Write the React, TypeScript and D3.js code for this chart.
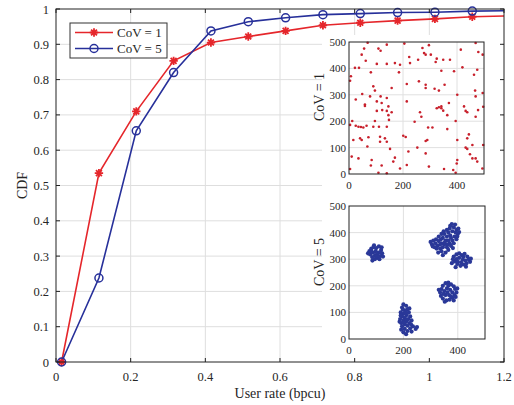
import React, { useRef, useEffect } from 'react';
import * as d3 from 'd3';

// main CDF curves (markers every 0.1 bpcu, line runs on to 1.2)
const rate = [0.015, 0.115, 0.215, 0.315, 0.415, 0.515, 0.615, 0.715, 0.815, 0.915, 1.015, 1.115];
const cov1 = [0, 0.535, 0.71, 0.853, 0.905, 0.922, 0.938, 0.954, 0.961, 0.967, 0.972, 0.978];
const cov5 = [0, 0.238, 0.655, 0.82, 0.938, 0.964, 0.975, 0.984, 0.987, 0.99, 0.991, 0.994];
const tailRate = 1.2;
const tailCov1 = 0.98;
const tailCov5 = 0.995;

const xTicks = [0, 0.2, 0.4, 0.6, 0.8, 1, 1.2];
const yTicks = [0, 0.1, 0.2, 0.3, 0.4, 0.5, 0.6, 0.7, 0.8, 0.9, 1];
const legendLabels = ['CoV = 1', 'CoV = 5'];

// user positions, CoV = 1 (uniform-ish)
const usersCov1: [number, number][] = [
  [69, 497], [140, 490], [205, 494], [56, 475], [109, 475], [117, 467], [47, 452], [62, 429], [103, 417], [140, 417],
  [170, 420], [189, 414], [223, 443], [226, 420], [22, 402], [37, 402], [81, 385], [185, 385], [7, 370], [4, 353],
  [214, 341], [158, 326], [90, 332], [96, 316], [49, 303], [78, 294], [117, 294], [25, 282], [103, 275], [140, 288],
  [121, 269], [214, 275], [59, 263], [146, 256],
  [296, 488], [272, 477], [278, 458], [284, 452], [303, 452], [256, 433], [325, 437], [349, 433], [374, 433], [321, 424],
  [414, 471], [469, 496], [479, 462], [495, 452], [342, 391], [389, 389], [420, 404], [475, 395], [463, 376], [259, 351],
  [284, 338], [284, 326], [317, 323], [333, 316], [354, 338], [401, 300], [467, 316], [469, 294], [495, 307], [370, 269],
  [333, 253], [342, 256], [426, 256],
  [59, 258], [103, 239], [123, 242], [140, 239], [146, 223], [158, 234], [148, 205], [96, 201], [12, 201], [4, 186],
  [25, 183], [35, 179], [44, 178], [53, 176], [65, 183], [90, 179], [111, 179], [140, 179], [201, 145], [210, 140],
  [16, 129], [41, 135], [47, 129], [72, 139], [115, 141], [133, 135], [140, 122], [115, 122], [68, 104], [152, 95],
  [220, 85], [10, 66], [35, 59], [84, 53], [170, 62], [164, 47], [214, 34], [81, 32], [121, 32], [189, 21],
  [4, 19], [109, 5], [140, 3],
  [263, 234], [268, 217], [325, 249], [342, 249], [349, 240], [364, 223], [432, 239], [438, 234], [478, 242], [497, 255],
  [469, 217], [395, 201], [243, 198], [293, 176], [309, 176], [364, 170], [444, 150], [438, 135], [290, 129], [284, 125],
  [401, 129], [432, 100], [438, 95], [457, 110], [497, 110], [253, 100], [284, 78], [448, 75], [457, 59], [469, 59],
  [401, 53], [399, 40], [475, 47], [296, 28], [352, 19], [386, 15], [395, 5], [494, 21],
];

// user positions, CoV = 5 (five clusters)
const usersCov5: [number, number][] = [
  [75, 330], [82, 340], [90, 345], [100, 342], [110, 348], [118, 335], [122, 322], [115, 312], [105, 305], [95, 300],
  [85, 308], [78, 318], [88, 325], [98, 330], [108, 325], [96, 315], [112, 300], [120, 345], [70, 322], [92, 352],
  [104, 318], [86, 295], [116, 326], [82, 330], [100, 310], [125, 310],
  [200, 130], [210, 125], [195, 118], [215, 112], [205, 108], [190, 100], [220, 100], [200, 95], [212, 90], [195, 85],
  [225, 85], [205, 80], [188, 75], [218, 75], [200, 70], [230, 70], [210, 65], [192, 60], [222, 60], [205, 55],
  [215, 50], [195, 48], [235, 48], [245, 38], [225, 40], [205, 38], [215, 30], [200, 25], [210, 18], [230, 28],
  [198, 110], [208, 100], [190, 88], [222, 115], [202, 62], [212, 72], [186, 65], [228, 55], [250, 45], [192, 35],
  [300, 365], [310, 370], [305, 355], [318, 360], [320, 375], [330, 368], [325, 350], [335, 340], [328, 325], [340, 330],
  [345, 345], [350, 355], [340, 360], [355, 370], [345, 380], [360, 385], [350, 395], [365, 400], [372, 390], [380, 405],
  [370, 415], [385, 420], [390, 430], [378, 432], [395, 410], [400, 395], [388, 385], [395, 375], [380, 370], [370, 360],
  [360, 345], [365, 335], [375, 350], [385, 360], [355, 325], [345, 315], [315, 345], [330, 385], [340, 395], [360, 410],
  [375, 380], [392, 400], [402, 415], [365, 370], [352, 362], [338, 375], [322, 340], [348, 405], [372, 425], [398, 385],
  [405, 402], [382, 342], [362, 355], [308, 348], [335, 355],
  [385, 310], [395, 318], [405, 322], [415, 315], [425, 320], [435, 310], [440, 300], [445, 290], [432, 285], [420, 280],
  [410, 275], [398, 282], [388, 292], [382, 300], [395, 300], [405, 305], [418, 298], [428, 295], [400, 290], [412, 288],
  [392, 270], [430, 272], [448, 302], [378, 285], [420, 308],
  [345, 200], [355, 210], [365, 212], [375, 205], [385, 198], [390, 188], [395, 175], [388, 165], [380, 155], [370, 148],
  [358, 145], [345, 152], [338, 162], [335, 175], [340, 188], [350, 180], [360, 190], [372, 185], [380, 175], [368, 165],
  [355, 165], [348, 170], [362, 175], [375, 160], [392, 158], [330, 185], [352, 140], [385, 145], [398, 190], [365, 200],
];

const insetXTicks = [0, 200, 400];
const insetYTicks = [0, 100, 200, 300, 400, 500];

const RED = '#e5262b';
const BLUE = '#27309a';
const FONT = '"Liberation Serif", "Times New Roman", serif';
const TXT = '#262626';

const W = 514;
const H = 405;

const asterisk = (s: number) => {
  const a = s * 0.7;
  return `M${-s},0L${s},0M0,${-s}L0,${s}M${-a},${-a}L${a},${a}M${-a},${a}L${a},${-a}`;
};

const drawInset = (
  svg: d3.Selection<SVGSVGElement, unknown, null, undefined>,
  box: { left: number; right: number; top: number; bottom: number },
  pts: [number, number][],
  label: string,
  labelY: number,
  color: string,
  r: number
) => {
  const x = d3.scaleLinear().domain([0, 500]).range([box.left, box.right]);
  const y = d3.scaleLinear().domain([0, 500]).range([box.bottom, box.top]);
  const g = svg.append('g');

  // grid
  g.selectAll('.gx').data(insetXTicks.slice(1)).enter().append('line')
    .attr('x1', d => x(d)).attr('x2', d => x(d))
    .attr('y1', box.top).attr('y2', box.bottom)
    .attr('stroke', '#e0e0e0').attr('stroke-width', 1);
  g.selectAll('.gy').data(insetYTicks.slice(1, -1)).enter().append('line')
    .attr('x1', box.left).attr('x2', box.right)
    .attr('y1', d => y(d)).attr('y2', d => y(d))
    .attr('stroke', '#e0e0e0').attr('stroke-width', 1);

  g.selectAll('.pt').data(pts).enter().append('circle')
    .attr('cx', d => x(d[0])).attr('cy', d => y(d[1]))
    .attr('r', r).attr('fill', color);

  g.append('rect')
    .attr('x', box.left).attr('y', box.top)
    .attr('width', box.right - box.left).attr('height', box.bottom - box.top)
    .attr('fill', 'none').attr('stroke', '#222').attr('stroke-width', 1);

  g.selectAll('.tx').data(insetXTicks).enter().append('text')
    .attr('x', d => x(d)).attr('y', box.bottom + 15)
    .attr('text-anchor', 'middle')
    .attr('font-family', FONT).attr('font-size', 11).attr('fill', TXT)
    .text(d => d);
  g.selectAll('.ty').data(insetYTicks).enter().append('text')
    .attr('x', box.left - 3).attr('y', d => y(d) + 4)
    .attr('text-anchor', 'end')
    .attr('font-family', FONT).attr('font-size', 11).attr('fill', TXT)
    .text(d => d);

  g.append('text')
    .attr('transform', `translate(${box.left - 25},${labelY}) rotate(-90)`)
    .attr('text-anchor', 'middle')
    .attr('font-family', FONT).attr('font-size', 14).attr('fill', TXT)
    .text(label);
};

const createChart = (svg: d3.Selection<SVGSVGElement, unknown, null, undefined>): void => {
  const margin = { top: 9, right: 10, bottom: 43, left: 56 };
  const width = W - margin.left - margin.right;
  const height = H - margin.top - margin.bottom;

  svg.selectAll('*').remove();

  const x = d3.scaleLinear().domain([0, 1.2]).range([margin.left, margin.left + width]);
  const y = d3.scaleLinear().domain([0, 1]).range([margin.top + height, margin.top]);

  svg.append('rect').attr('width', W).attr('height', H).attr('fill', '#fff');

  // grid
  svg.selectAll('.gx').data(xTicks.slice(1, -1)).enter().append('line')
    .attr('x1', d => x(d)).attr('x2', d => x(d))
    .attr('y1', margin.top).attr('y2', margin.top + height)
    .attr('stroke', '#dedede').attr('stroke-width', 1);
  svg.selectAll('.gy').data(yTicks.slice(1, -1)).enter().append('line')
    .attr('x1', margin.left).attr('x2', margin.left + width)
    .attr('y1', d => y(d)).attr('y2', d => y(d))
    .attr('stroke', '#dedede').attr('stroke-width', 1);

  // curves
  const line = d3.line<[number, number]>().x(d => x(d[0])).y(d => y(d[1]));
  const red: [number, number][] = rate.map((r, i) => [r, cov1[i]]);
  const blue: [number, number][] = rate.map((r, i) => [r, cov5[i]]);
  svg.append('path').datum([...red, [tailRate, tailCov1]] as [number, number][])
    .attr('d', line).attr('fill', 'none').attr('stroke', RED).attr('stroke-width', 1.6);
  svg.append('path').datum([...blue, [tailRate, tailCov5]] as [number, number][])
    .attr('d', line).attr('fill', 'none').attr('stroke', BLUE).attr('stroke-width', 1.6);

  svg.selectAll('.mr').data(red).enter().append('path')
    .attr('transform', d => `translate(${x(d[0])},${y(d[1])})`)
    .attr('d', asterisk(4.2)).attr('stroke', RED).attr('stroke-width', 1.8).attr('fill', 'none');
  svg.selectAll('.mb').data(blue).enter().append('circle')
    .attr('cx', d => x(d[0])).attr('cy', d => y(d[1])).attr('r', 4)
    .attr('fill', 'none').attr('stroke', BLUE).attr('stroke-width', 1.5);

  // inset backdrop
  svg.append('rect').attr('x', 322).attr('y', 35).attr('width', 180).attr('height', 326).attr('fill', '#fff');

  // frame and ticks
  svg.append('rect')
    .attr('x', margin.left).attr('y', margin.top).attr('width', width).attr('height', height)
    .attr('fill', 'none').attr('stroke', '#222').attr('stroke-width', 1);
  const tk = 4;
  xTicks.forEach(t => {
    svg.append('line').attr('x1', x(t)).attr('x2', x(t))
      .attr('y1', margin.top + height).attr('y2', margin.top + height - tk).attr('stroke', '#222');
    svg.append('line').attr('x1', x(t)).attr('x2', x(t))
      .attr('y1', margin.top).attr('y2', margin.top + tk).attr('stroke', '#222');
  });
  yTicks.forEach(t => {
    svg.append('line').attr('x1', margin.left).attr('x2', margin.left + tk)
      .attr('y1', y(t)).attr('y2', y(t)).attr('stroke', '#222');
    svg.append('line').attr('x1', margin.left + width).attr('x2', margin.left + width - tk)
      .attr('y1', y(t)).attr('y2', y(t)).attr('stroke', '#222');
  });

  svg.selectAll('.xl').data(xTicks).enter().append('text')
    .attr('x', d => x(d)).attr('y', margin.top + height + 19)
    .attr('text-anchor', 'middle')
    .attr('font-family', FONT).attr('font-size', 12.5).attr('fill', TXT)
    .text(d => String(d));
  svg.selectAll('.yl').data(yTicks).enter().append('text')
    .attr('x', margin.left - 7).attr('y', d => y(d) + 4.5)
    .attr('text-anchor', 'end')
    .attr('font-family', FONT).attr('font-size', 12.5).attr('fill', TXT)
    .text(d => String(d));

  svg.append('text')
    .attr('x', margin.left + width / 2).attr('y', H - 7)
    .attr('text-anchor', 'middle')
    .attr('font-family', FONT).attr('font-size', 14).attr('fill', TXT)
    .text('User rate (bpcu)');
  svg.append('text')
    .attr('transform', `translate(27,${margin.top + height / 2}) rotate(-90)`)
    .attr('text-anchor', 'middle')
    .attr('font-family', FONT).attr('font-size', 14).attr('fill', TXT)
    .text('CDF');

  // legend
  const lg = svg.append('g');
  lg.append('rect').attr('x', 70).attr('y', 23).attr('width', 97).attr('height', 35)
    .attr('fill', '#fff').attr('stroke', '#333').attr('stroke-width', 1);
  legendLabels.forEach((lab, i) => {
    const ly = 32.5 + i * 16;
    const c = i === 0 ? RED : BLUE;
    lg.append('line').attr('x1', 75).attr('x2', 113).attr('y1', ly).attr('y2', ly)
      .attr('stroke', c).attr('stroke-width', 1.6);
    if (i === 0) {
      lg.append('path').attr('transform', `translate(94,${ly})`).attr('d', asterisk(4.2))
        .attr('stroke', c).attr('stroke-width', 1.8).attr('fill', 'none');
    } else {
      lg.append('circle').attr('cx', 94).attr('cy', ly).attr('r', 4)
        .attr('fill', 'none').attr('stroke', c).attr('stroke-width', 1.5);
    }
    lg.append('text').attr('x', 117).attr('y', ly + 4.5)
      .attr('font-family', FONT).attr('font-size', 13).attr('fill', TXT)
      .text(lab);
  });

  drawInset(svg, { left: 349, right: 484, top: 42, bottom: 174 }, usersCov1, 'CoV = 1', 97, '#c8202c', 1.3);
  drawInset(svg, { left: 349, right: 485, top: 206, bottom: 339 }, usersCov5, 'CoV = 5', 262, '#2a3898', 2.1);
};

const App: React.FC = () => {
  const ref = useRef<SVGSVGElement>(null);

  useEffect(() => {
    if (ref.current) {
      createChart(d3.select(ref.current) as d3.Selection<SVGSVGElement, unknown, null, undefined>);
    }
  }, []);

  return (
    <svg
      ref={ref}
      width={W}
      height={H}
      style={{ position: 'absolute', left: 0, top: 0 }}
    />
  );
};

export default App;
